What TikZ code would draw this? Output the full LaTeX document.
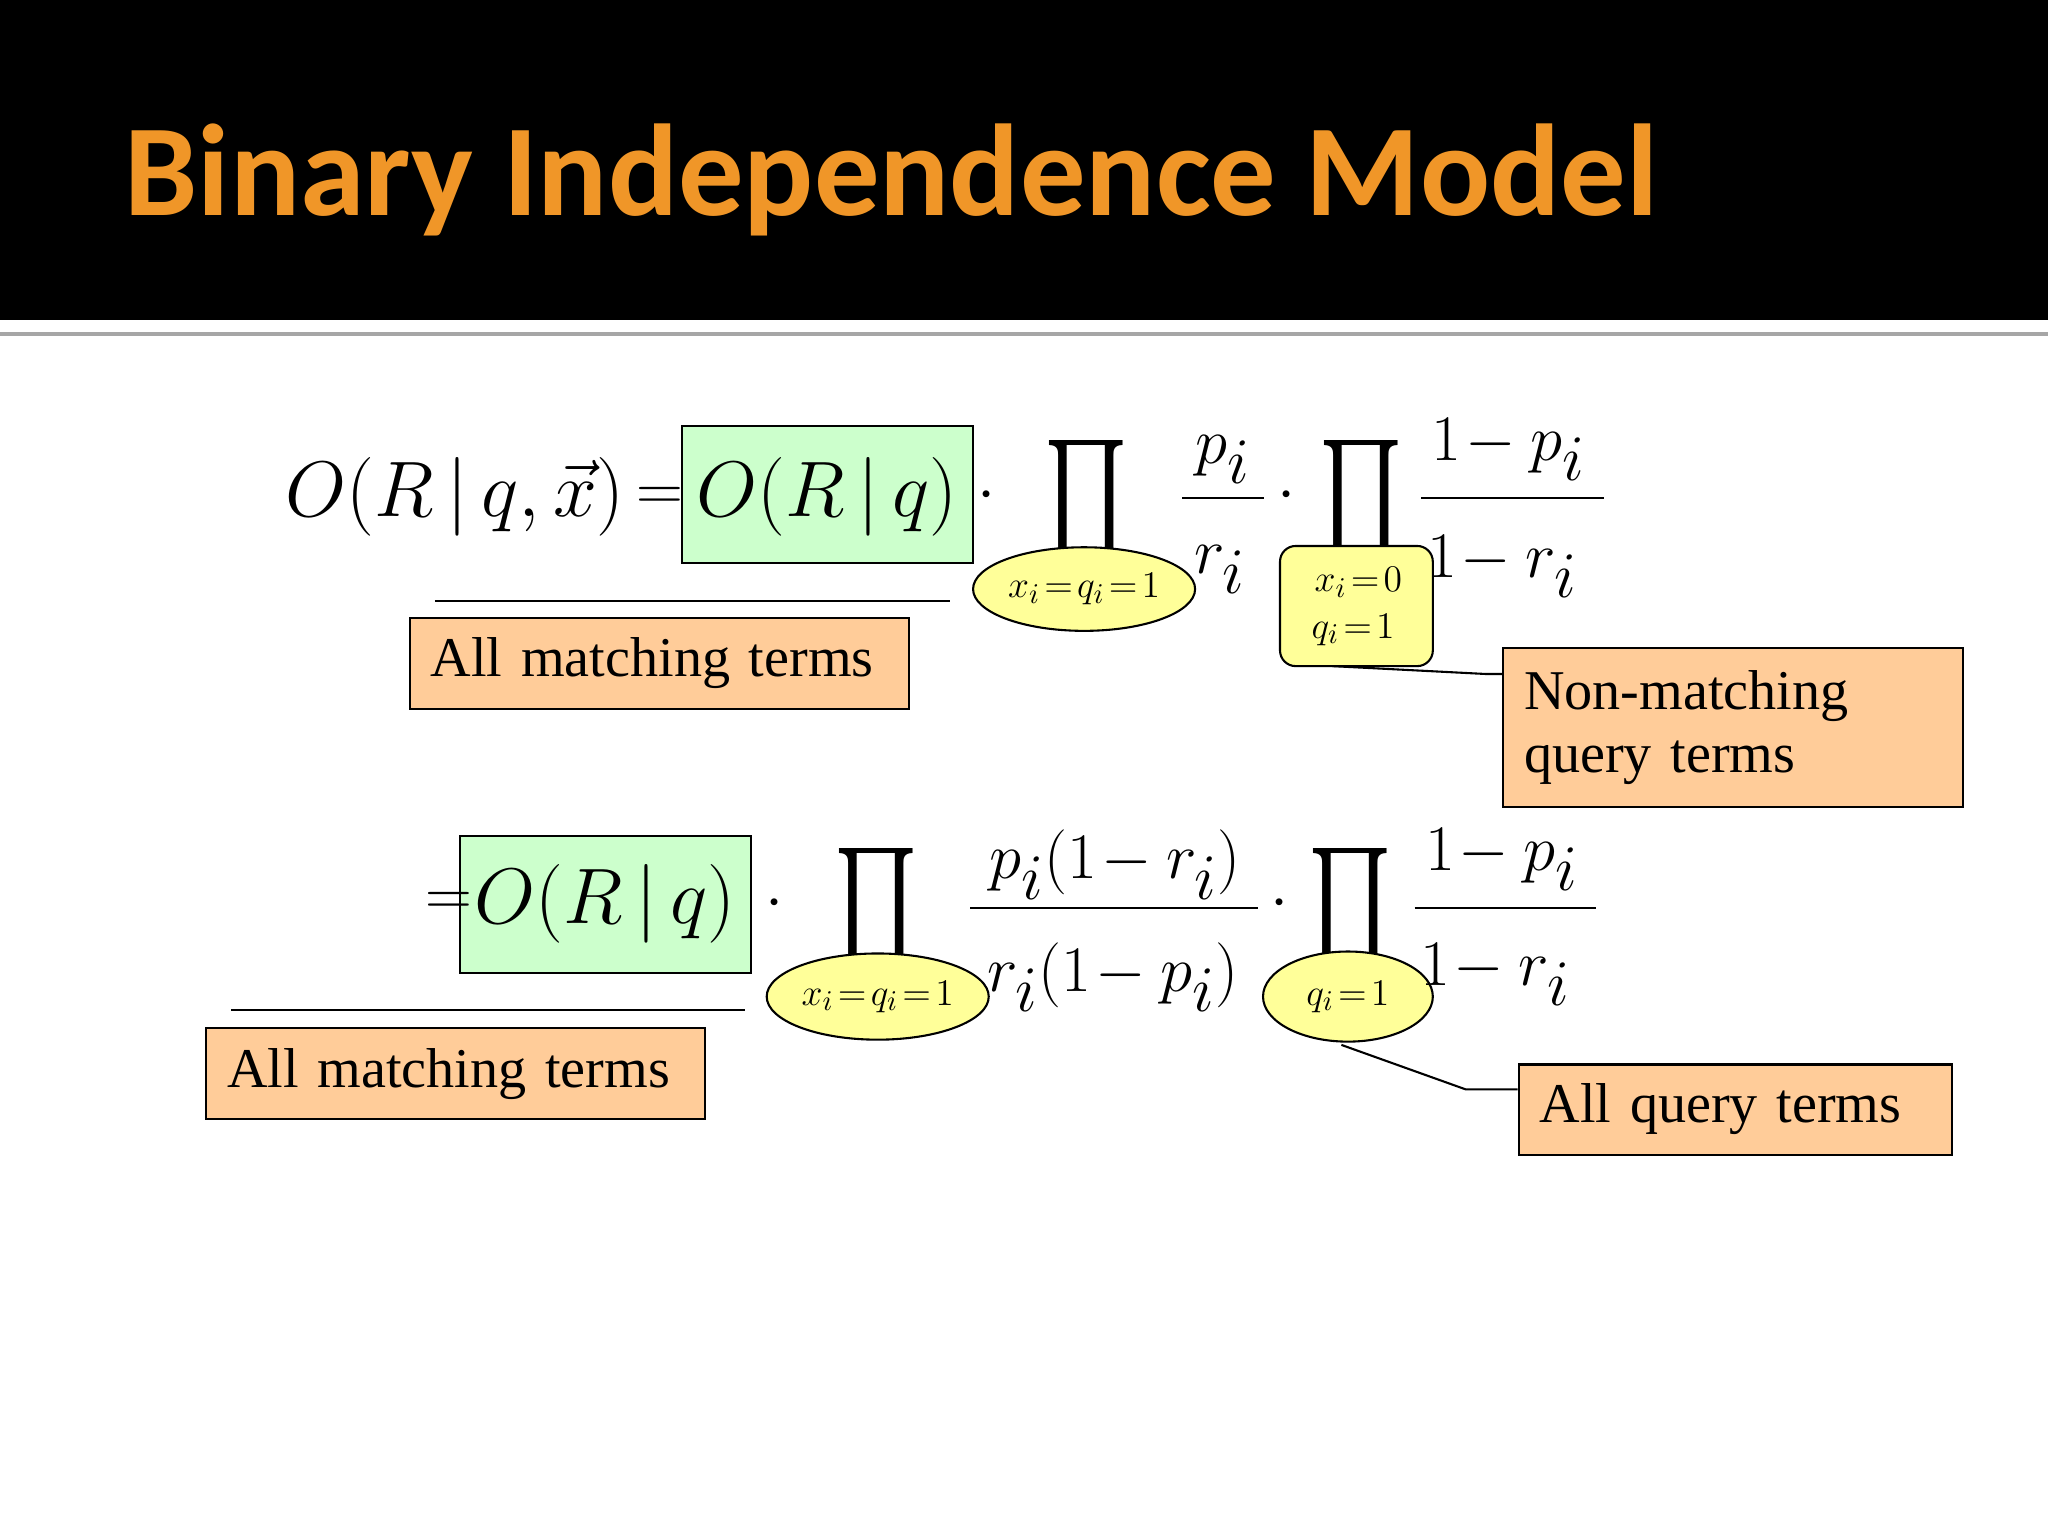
\documentclass[tikz,border=0pt]{standalone}
\usepackage{fontspec}
\usepackage{graphicx}
\setmainfont{Liberation Serif}
\newfontfamily\titlefont{Carlito}
\usetikzlibrary{shapes.geometric}
\definecolor{ttl}{RGB}{240,150,40}
\definecolor{grn}{RGB}{204,255,204}
\definecolor{org}{RGB}{255,204,153}
\definecolor{yel}{RGB}{255,255,153}
\newcommand{\bigprod}{\resizebox{32pt}{36pt}{$\prod$}}
\tikzset{
  mth/.style={inner sep=0pt,font=\fontsize{34}{34}\selectfont},
  sub/.style={inner sep=0pt,font=\fontsize{15}{15}\selectfont},
  gbox/.style={draw,fill=grn,line width=0.8pt},
  obox/.style={draw,fill=org,line width=0.8pt,inner sep=0pt,font=\fontsize{21.5}{24}\selectfont,align=left,anchor=west},
  yell/.style={draw,fill=yel,ellipse,line width=0.8pt},
  prodn/.style={inner sep=0pt},
  ln/.style={line width=0.8pt}
}
\begin{document}
\begin{tikzpicture}[x=0.5pt,y=-0.5pt]
\useasboundingbox (0,0) rectangle (1568,1176);
\fill[white] (0,0) rectangle (1568,1176);
\fill[black] (0,0) rectangle (1568,245);
\draw[gray!70,line width=1.5pt] (0,256) -- (1568,256);
\node[anchor=base west,inner sep=0pt,text=ttl] (title) at (95,165)
  {\resizebox{587pt}{!}{\titlefont\bfseries Binary Independence Model}};
% ---- equation 1
\node[gbox,minimum width=111.5pt,minimum height=52.5pt] (g1) at (633.5,378.5) {};
\node[mth,anchor=west] (lhs) at (218,380) {\resizebox{130pt}{!}{$O(R\,|\,q,\vec{x})$}};
\node[mth] (eq1) at (505,382) {$=$};
\node[mth] (o1) at (633,380) {\resizebox{100pt}{!}{$O(R\,|\,q)$}};
\node[mth] (d1) at (755,380) {$\cdot$};
\node[prodn] (p1) at (832,385) {\bigprod};
\node[yell,minimum width=85pt,minimum height=32pt,inner sep=0pt] (e1) at (830,451) {};
\node[sub] at (e1) {$x_i\!=\!q_i\!=\!1$};
\node[mth] (f1n) at (936,352) {$p_i$};
\node[mth] (f1d) at (934,436) {$r_i$};
\draw[ln] (905,381) -- (968,381);
\node[mth] (d2) at (985,380) {$\cdot$};
\node[prodn] (p2) at (1042,385) {\bigprod};
\node[draw,fill=yel,rounded corners=6pt,line width=0.8pt,minimum width=58.5pt,minimum height=46pt,inner sep=0pt] (rb) at (1038.5,464) {};
\node[sub] at (1040,446) {$x_i\!=\!0$};
\node[sub] at (1036,482) {$q_i\!=\!1$};
\node[mth] (f2n) at (1155,344) {$1\!-p_i$};
\node[mth] (f2d) at (1150,434) {$1\!-r_i$};
\draw[ln] (1088,381) -- (1228,381);
\coordinate (u1a) at (333,460); \coordinate (u1b) at (727,460);
\draw[ln] (u1a) -- (u1b);
\node[obox,minimum width=189.5pt,minimum height=35pt,text width=175pt,inner xsep=8pt] (b1) at (313,508) {All matching terms};
\node[obox,minimum width=176pt,minimum height=61pt,text width=160pt,inner xsep=8pt] (b2) at (1150,557) {Non-matching\\query terms};
\coordinate (c1) at (1137,516);
\draw[ln] (1020,510) -- (c1) -- (1150,516);
% ---- equation 2
\node[gbox,minimum width=111.5pt,minimum height=52.5pt] (g2) at (463.5,692.5) {};
\node[mth] (eq2) at (344,692) {$=$};
\node[mth] (o2) at (463,692) {\resizebox{100pt}{!}{$O(R\,|\,q)$}};
\node[mth] (d3) at (593,692) {$\cdot$};
\node[prodn] (p3) at (671,698) {\bigprod};
\node[yell,minimum width=85pt,minimum height=33pt,inner sep=0pt] (e2) at (672,763) {};
\node[sub] at (e2) {$x_i\!=\!q_i\!=\!1$};
\node[mth] (f3n) at (854,662) {$p_i(1\!-r_i)$};
\node[mth] (f3d) at (852,748) {$r_i(1\!-p_i)$};
\draw[ln] (743,695) -- (963,695);
\node[mth] (d4) at (980,692) {$\cdot$};
\node[prodn] (p4) at (1034,698) {\bigprod};
\node[yell,minimum width=65pt,minimum height=34.5pt,inner sep=0pt] (e3) at (1032,763) {};
\node[sub] at (e3) {$q_i\!=\!1$};
\node[mth] (f4n) at (1150,658) {$1\!-p_i$};
\node[mth] (f4d) at (1145,746) {$1\!-r_i$};
\draw[ln] (1083,695) -- (1222,695);
\coordinate (u2a) at (177,773); \coordinate (u2b) at (570,773);
\draw[ln] (u2a) -- (u2b);
\node[obox,minimum width=189pt,minimum height=35pt,text width=175pt,inner xsep=8pt] (b3) at (157,822) {All matching terms};
\node[obox,minimum width=163.5pt,minimum height=34.5pt,text width=150pt,inner xsep=8pt] (b4) at (1162,849.5) {All query terms};
\coordinate (c2) at (1122,834);
\draw[ln] (1027,800) -- (c2) -- (1162,834);
\end{tikzpicture}
\end{document}
